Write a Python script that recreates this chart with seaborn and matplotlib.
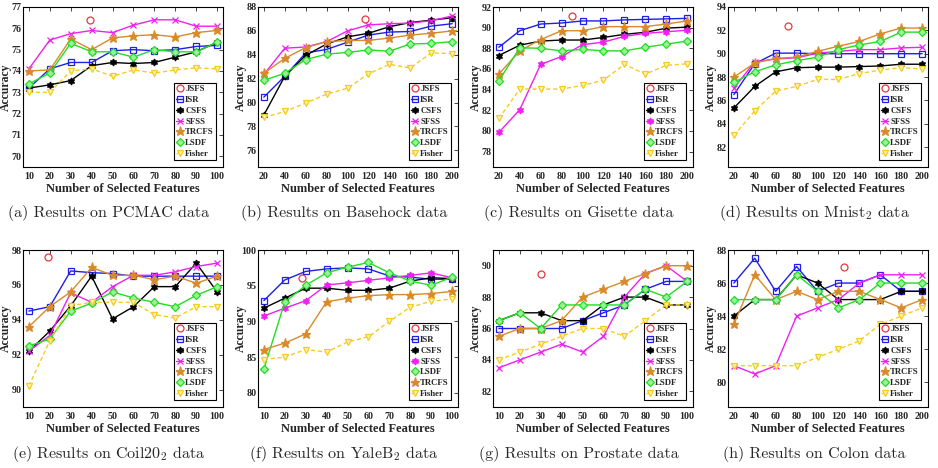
# plot.py
# Accuracy vs number of selected features on eight datasets

import numpy as np
import pandas as pd
import matplotlib
matplotlib.use("Agg")
import matplotlib.pyplot as plt
import seaborn as sns
from matplotlib.ticker import MultipleLocator

# ─────────────────────────────────────────
# DATA
# ─────────────────────────────────────────
x_10 = [10, 20, 30, 40, 50, 60, 70, 80, 90, 100]
x_20 = [20, 40, 60, 80, 100, 120, 140, 160, 180, 200]

# (a) PCMAC
pcmac_jsfs_x = [39]
pcmac_jsfs = [76.4]
pcmac_isr = [73.2, 74.1, 74.4, 74.4, 74.95, 75.0, 74.95, 75.0, 75.15, 75.2]
pcmac_csfs = [73.2, 73.35, 73.55, 74.25, 74.4, 74.35, 74.4, 74.65, 74.9, 75.35]
pcmac_sfss = [74.1, 75.45, 75.75, 75.9, 75.8, 76.15, 76.4, 76.4, 76.1, 76.1]
pcmac_trcfs = [74.0, 74.05, 75.5, 75.0, 75.55, 75.65, 75.7, 75.6, 75.8, 75.9]
pcmac_lsdf = [73.4, 73.9, 75.3, 74.9, 74.9, 74.65, 75.0, 74.9, 74.9, 75.35]
pcmac_fisher = [73.0, 73.0, 74.0, 74.1, 73.75, 74.05, 73.9, 74.05, 74.15, 74.1]

# (b) Basehock
basehock_jsfs_x = [117]
basehock_jsfs = [87.0]
basehock_isr = [80.45, 82.2, 84.15, 84.45, 85.05, 85.65, 85.9, 85.95, 86.4, 86.6]
basehock_csfs = [78.95, 82.2, 83.95, 84.9, 85.5, 85.8, 86.35, 86.7, 86.9, 87.1]
basehock_sfss = [82.35, 84.55, 84.65, 85.1, 86.0, 86.5, 86.6, 86.65, 86.85, 87.25]
basehock_trcfs = [82.45, 83.7, 84.6, 85.1, 85.2, 85.2, 85.4, 85.65, 85.8, 86.0]
basehock_lsdf = [81.85, 82.45, 83.6, 84.05, 84.2, 84.4, 84.3, 84.9, 84.95, 85.1]
basehock_fisher = [78.75, 79.25, 79.95, 80.7, 81.2, 82.4, 83.2, 82.9, 84.15, 84.1]

# (c) Gisette
gisette_jsfs_x = [90]
gisette_jsfs = [91.1]
gisette_isr = [88.1, 89.7, 90.35, 90.45, 90.65, 90.65, 90.75, 90.8, 90.85, 90.9]
gisette_csfs = [87.3, 88.3, 88.7, 88.8, 88.8, 89.05, 89.35, 89.55, 89.95, 90.05]
gisette_sfss = [79.85, 82.05, 86.45, 87.2, 88.35, 88.6, 89.15, 89.45, 89.6, 89.75]
gisette_trcfs = [85.5, 87.75, 88.85, 89.7, 89.7, 90.1, 90.1, 90.1, 90.35, 90.65]
gisette_lsdf = [84.85, 88.05, 88.0, 87.75, 87.9, 87.75, 87.75, 88.1, 88.4, 88.7]
gisette_fisher = [81.2, 84.05, 84.05, 84.05, 84.4, 84.9, 86.45, 85.5, 86.35, 86.5]

# (d) Mnist2
mnist_jsfs_x = [72]
mnist_jsfs = [92.4]
mnist_isr = [86.5, 89.15, 90.05, 90.05, 90.0, 90.0, 90.0, 90.0, 90.0, 90.0]
mnist_csfs = [85.35, 87.2, 88.45, 88.8, 88.85, 88.85, 88.9, 88.95, 89.1, 89.1]
mnist_sfss = [87.05, 89.3, 89.55, 89.65, 90.05, 90.2, 90.35, 90.35, 90.5, 90.55]
mnist_trcfs = [88.0, 89.2, 89.6, 89.7, 90.2, 90.65, 91.05, 91.7, 92.2, 92.2]
mnist_lsdf = [87.55, 88.45, 89.05, 89.4, 89.7, 90.35, 90.75, 91.05, 91.85, 91.85]
mnist_fisher = [83.0, 85.1, 86.8, 87.2, 87.8, 87.8, 88.3, 88.6, 88.8, 88.7]

# (e) Coil20
coil_jsfs_x = [19]
coil_jsfs = [97.6]
coil_isr = [94.5, 94.75, 96.8, 96.7, 96.65, 96.5, 96.5, 96.5, 96.5, 96.5]
coil_csfs = [92.2, 93.35, 94.8, 96.5, 94.05, 94.75, 95.9, 95.9, 97.25, 95.6]
coil_sfss = [92.2, 93.1, 95.55, 95.0, 95.9, 96.55, 96.55, 96.75, 97.05, 97.25]
coil_trcfs = [93.6, 94.75, 95.6, 97.0, 96.55, 96.55, 96.3, 96.5, 96.1, 96.5]
coil_lsdf = [92.5, 92.9, 94.5, 94.95, 95.6, 95.25, 95.0, 94.75, 95.4, 95.9]
coil_fisher = [90.2, 92.8, 94.8, 95.0, 95.0, 95.0, 94.3, 94.1, 94.75, 94.75]

# (f) YaleB2
yale_jsfs_x = [28]
yale_jsfs = [96.1]
yale_isr = [92.9, 95.8, 97.0, 97.35, 97.5, 97.35, 96.35, 96.2, 95.9, 95.9]
yale_csfs = [91.85, 93.25, 94.65, 94.65, 94.35, 94.35, 94.65, 95.65, 96.1, 96.0]
yale_sfss = [90.75, 91.85, 92.9, 95.1, 95.4, 95.75, 96.1, 96.45, 96.8, 96.1]
yale_lsdf = [83.3, 92.7, 95.05, 96.8, 97.6, 98.25, 96.8, 95.65, 95.05, 96.2]
yale_trcfs = [86.05, 86.95, 88.25, 92.75, 93.25, 93.6, 93.75, 93.75, 93.9, 94.2]
yale_fisher = [84.65, 85.0, 86.05, 85.7, 87.1, 87.85, 90.0, 92.0, 92.8, 93.15]

# (g) Prostate
prostate_jsfs_x = [30]
prostate_jsfs = [89.5]
prostate_isr = [86.0, 86.0, 86.0, 86.0, 86.5, 87.0, 87.5, 88.5, 89.0, 89.0]
prostate_csfs = [86.5, 87.0, 87.0, 86.5, 86.5, 87.5, 88.0, 88.0, 87.5, 87.5]
prostate_sfss = [83.5, 84.0, 84.5, 85.0, 84.5, 85.5, 88.0, 89.5, 90.0, 89.0]
prostate_trcfs = [85.5, 86.0, 86.0, 86.5, 88.0, 88.5, 89.0, 89.5, 90.0, 90.0]
prostate_lsdf = [86.5, 87.0, 86.0, 87.5, 87.5, 87.5, 87.5, 88.5, 88.0, 89.0]
prostate_fisher = [84.0, 84.5, 85.0, 85.5, 86.0, 86.0, 85.5, 86.5, 87.5, 87.5]

# (h) Colon
colon_jsfs_x = [125]
colon_jsfs = [87.0]
colon_isr = [86.0, 87.5, 85.5, 87.0, 85.5, 86.0, 86.0, 86.5, 85.5, 85.5]
colon_csfs = [84.0, 85.0, 85.0, 86.5, 86.0, 85.0, 85.0, 85.0, 85.5, 85.5]
colon_sfss = [81.0, 80.5, 81.0, 84.0, 84.5, 85.0, 86.0, 86.5, 86.5, 86.5]
colon_trcfs = [83.5, 86.5, 85.0, 85.5, 85.0, 85.5, 85.5, 85.0, 84.5, 85.0]
colon_lsdf = [85.0, 85.0, 85.0, 86.5, 85.5, 84.5, 85.0, 86.0, 86.0, 86.0]
colon_fisher = [81.0, 81.0, 81.0, 81.0, 81.5, 82.0, 82.5, 83.5, 84.0, 84.5]

captions = ["(a) Results on PCMAC data", "(b) Results on Basehock data",
            "(c) Results on Gisette data", "(d) Results on Mnist$_2$ data",
            "(e) Results on Coil20$_2$ data", "(f) Results on YaleB$_2$ data",
            "(g) Results on Prostate data", "(h) Results on Colon data"]

# ─────────────────────────────────────────
# STYLE
# ─────────────────────────────────────────
sns.set_theme(style="white")
plt.rcParams["font.family"] = ["Liberation Serif", "DejaVu Serif"]
plt.rcParams["font.weight"] = "bold"
plt.rcParams["axes.labelweight"] = "bold"
plt.rcParams["mathtext.fontset"] = "cm"

hexagram = (6, 1, 0)
styles = {
    "JSFS":   dict(color="#E8383D", marker="o", markerfacecolor="none",
                   markeredgecolor="#E8383D", markersize=5, linestyle="none"),
    "ISR":    dict(color="#1F1FE6", marker="s", markerfacecolor="none",
                   markeredgecolor="#1F1FE6", markersize=4, linestyle="-"),
    "CSFS":   dict(color="black", marker=hexagram, markerfacecolor="black",
                   markeredgecolor="black", markersize=5, linestyle="-"),
    "SFSS":   dict(color="#F020F0", marker="x", markerfacecolor="#F020F0",
                   markeredgecolor="#F020F0", markersize=4, linestyle="-"),
    "TRCFS":  dict(color="#D98A2B", marker="*", markerfacecolor="#D98A2B",
                   markeredgecolor="#D98A2B", markersize=6.5, linestyle="-"),
    "LSDF":   dict(color="#22DD22", marker="D", markerfacecolor="#9CF09C",
                   markeredgecolor="#22DD22", markersize=4, linestyle="-"),
    "Fisher": dict(color="#F5CC1F", marker="v", markerfacecolor="#FFF3B0",
                   markeredgecolor="#F5CC1F", markersize=5,
                   linestyle=(0, (3, 2))),
}

order = ["JSFS", "ISR", "CSFS", "SFSS", "TRCFS", "LSDF", "Fisher"]
order_f = ["JSFS", "ISR", "CSFS", "SFSS", "LSDF", "TRCFS", "Fisher"]

panels = [
    (x_10, pcmac_jsfs_x, pcmac_jsfs, [pcmac_isr, pcmac_csfs, pcmac_sfss, pcmac_trcfs, pcmac_lsdf, pcmac_fisher], (69.5, 77), 1, "x", order),
    (x_20, basehock_jsfs_x, basehock_jsfs, [basehock_isr, basehock_csfs, basehock_sfss, basehock_trcfs, basehock_lsdf, basehock_fisher], (74.6, 88), 2, "x", order),
    (x_20, gisette_jsfs_x, gisette_jsfs, [gisette_isr, gisette_csfs, gisette_sfss, gisette_trcfs, gisette_lsdf, gisette_fisher], (76.5, 92), 2, hexagram, order),
    (x_20, mnist_jsfs_x, mnist_jsfs, [mnist_isr, mnist_csfs, mnist_sfss, mnist_trcfs, mnist_lsdf, mnist_fisher], (80.3, 94), 2, "x", order),
    (x_10, coil_jsfs_x, coil_jsfs, [coil_isr, coil_csfs, coil_sfss, coil_trcfs, coil_lsdf, coil_fisher], (89, 98), 2, "x", order),
    (x_10, yale_jsfs_x, yale_jsfs, [yale_isr, yale_csfs, yale_sfss, yale_trcfs, yale_lsdf, yale_fisher], (78, 100), 5, hexagram, order_f),
    (x_10, prostate_jsfs_x, prostate_jsfs, [prostate_isr, prostate_csfs, prostate_sfss, prostate_trcfs, prostate_lsdf, prostate_fisher], (81, 91), 2, "x", order),
    (x_20, colon_jsfs_x, colon_jsfs, [colon_isr, colon_csfs, colon_sfss, colon_trcfs, colon_lsdf, colon_fisher], (78.5, 88), 2, "x", order),
]

# ─────────────────────────────────────────
# FIGURE
# ─────────────────────────────────────────
W, H = 938, 468
fig = plt.figure(figsize=(W / 100, H / 100), dpi=100)

col_left = [23, 258, 493, 728]
row_box = [(7, 167), (250, 407)]
ax_w = 200

for i, (xs, jx, jy, ys, ylim, ystep, sfss_marker, leg_order) in enumerate(panels):
    r, c = divmod(i, 4)
    top, bot = row_box[r]
    ax = fig.add_axes([col_left[c] / W, 1 - bot / H, ax_w / W, (bot - top) / H])

    names = ["ISR", "CSFS", "SFSS", "TRCFS", "LSDF", "Fisher"]
    series = {"JSFS": (jx, jy)}
    for n, y in zip(names, ys):
        series[n] = (xs, y)

    handles = {}
    for name in leg_order:
        sx, sy = series[name]
        st = dict(styles[name])
        if name == "SFSS":
            st["marker"] = sfss_marker
            if sfss_marker != "x":
                st["markersize"] = 5
        df = pd.DataFrame({"x": sx, "y": sy})
        sns.lineplot(data=df, x="x", y="y", ax=ax, errorbar=None,
                     linewidth=1.0, markeredgewidth=0.9, legend=False, **st)
        handles[name] = ax.lines[-1]

    step = xs[1] - xs[0]
    ax.set_xlim(xs[0] - 0.28 * step, xs[-1] + 0.28 * step)
    ax.set_ylim(*ylim)
    ax.set_xticks(xs)
    ax.yaxis.set_major_locator(MultipleLocator(ystep))
    ax.tick_params(direction="in", length=3, width=0.6, top=True, right=True,
                   labelsize=7.2)
    ax.tick_params(axis="x", pad=3.5)
    ax.tick_params(axis="y", pad=1)
    for s in ax.spines.values():
        s.set_color("black")
        s.set_linewidth(0.8)

    ax.set_xlabel("Number of Selected Features", fontsize=9, labelpad=1.5)
    ax.set_ylabel("Accuracy", fontsize=8.5)
    ax.yaxis.set_label_coords(-0.055, 0.5)

    leg = ax.legend([handles[n] for n in leg_order], leg_order,
                    loc="lower right", fontsize=6.3, frameon=True,
                    fancybox=False, edgecolor="black", framealpha=1,
                    handlelength=0.8, handletextpad=0.25, labelspacing=0.3,
                    borderpad=0.25, borderaxespad=0.8)
    leg.get_frame().set_linewidth(0.8)

    cx = (col_left[c] - 28 + col_left[c] + ax_w) / 2 / W
    cy = 1 - (213 if r == 0 else 454) / H
    fig.text(cx, cy, captions[i], ha="center", va="center", fontsize=11.5,
             family="cmr10", fontweight="normal")

fig.savefig("out.png", dpi=100)
